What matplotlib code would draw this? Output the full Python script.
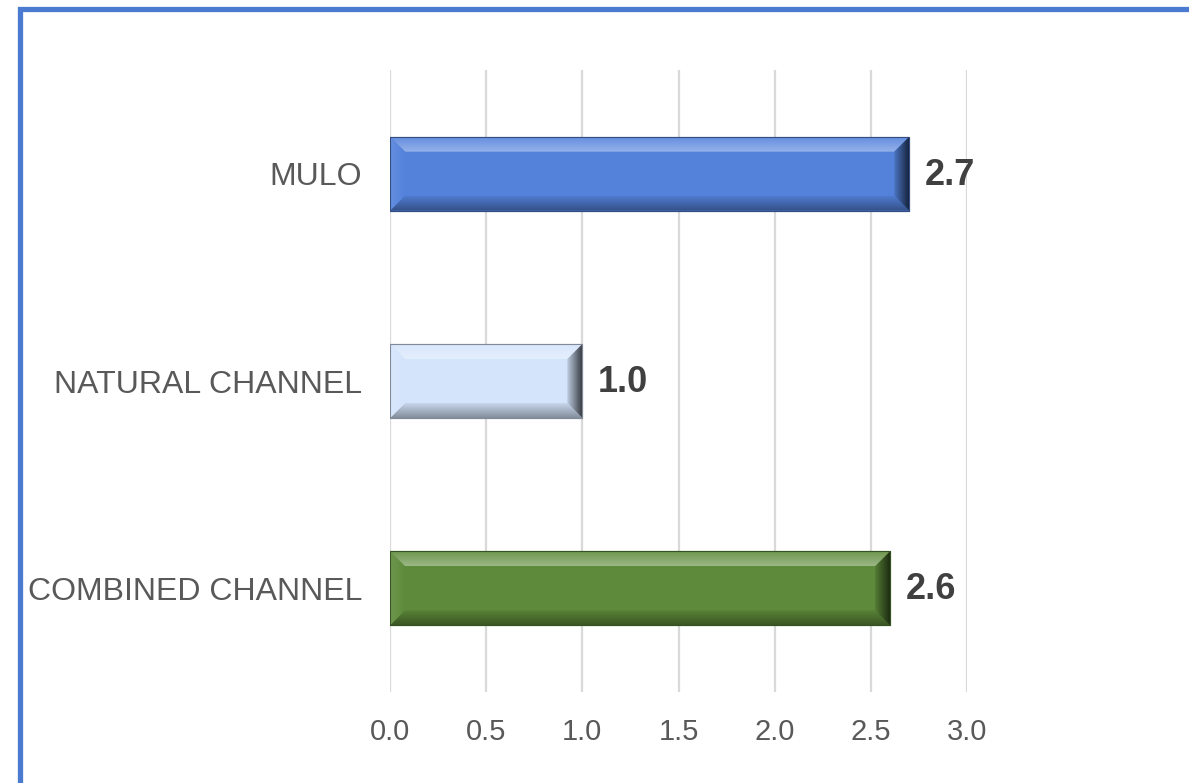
import numpy as np
import matplotlib
matplotlib.use("Agg")
import matplotlib.pyplot as plt
from matplotlib.patches import Polygon, Rectangle
from matplotlib.colors import to_rgb, LinearSegmentedColormap

categories = ["MULO", "NATURAL CHANNEL", "COMBINED CHANNEL"]
values = [2.7, 1.0, 2.6]
value_labels = ["2.7", "1.0", "2.6"]
face_colors = ["#5482DB", "#D4E4FB", "#5E8B3B"]
x_ticks = [0.0, 0.5, 1.0, 1.5, 2.0, 2.5, 3.0]
x_tick_labels = ["0.0", "0.5", "1.0", "1.5", "2.0", "2.5", "3.0"]

W, H, DPI = 1189, 783, 100
fig = plt.figure(figsize=(W / DPI, H / DPI), dpi=DPI)
fig.patch.set_facecolor("white")

ax = fig.add_axes([390 / W, 1 - 692 / H, (967 - 390) / W, (692 - 70) / H])
ax.set_xlim(0, 3.0)
ax.set_ylim(len(categories) - 0.5, -0.5)
for s in ax.spines.values():
    s.set_visible(False)
ax.set_xticks(x_ticks)
ax.set_xticklabels(x_tick_labels, fontsize=21, color="#595959",
                   family=["Liberation Sans", "DejaVu Sans"])
ax.set_yticks(range(len(categories)))
ax.set_yticklabels(categories, fontsize=23, color="#595959",
                   family=["Liberation Sans", "DejaVu Sans"])
ax.tick_params(axis="x", length=0, pad=19)
ax.tick_params(axis="y", length=0, pad=20)
ax.grid(axis="x", color="#D9D9D9", linewidth=1.6)
ax.set_axisbelow(True)


def mix(c, other, t):
    c = np.array(to_rgb(c))
    o = np.array(to_rgb(other))
    return tuple(c * (1 - t) + o * t)


def to_data(pts):
    return ax.transData.inverted().transform(np.asarray(pts))


def grad_poly(poly_px, c_outer, c_inner, direction):
    """Fill a pixel-space polygon with a linear gradient (outer edge -> inner edge)."""
    poly = to_data(poly_px)
    patch = Polygon(poly, closed=True, facecolor="none", edgecolor="none", zorder=3)
    ax.add_patch(patch)
    cmap = LinearSegmentedColormap.from_list("g", [c_outer, c_inner])
    n = 64
    ramp = np.linspace(0, 1, n)
    if direction == "top":
        img = ramp[:, None]
    elif direction == "bottom":
        img = ramp[::-1][:, None]
    elif direction == "left":
        img = ramp[None, :]
    else:
        img = ramp[::-1][None, :]
    xs, ys = poly[:, 0], poly[:, 1]
    # extent given so that image row 0 is drawn at the display top
    im = ax.imshow(img, cmap=cmap, aspect="auto", interpolation="bilinear",
                   extent=(xs.min(), xs.max(), ys.max(), ys.min()), zorder=3)
    im.set_clip_path(patch)


bar_h = 0.357
bev = 15  # bevel width in pixels
for i, (v, fc) in enumerate(zip(values, face_colors)):
    ax.barh(i, v, height=bar_h, color=fc, edgecolor=mix(fc, "black", 0.35),
            linewidth=0.8, zorder=2)
    (x0, yb), (x1, yt) = ax.transData.transform([(0, i + bar_h / 2), (v, i - bar_h / 2)])
    # display coords: yt is top (larger), yb bottom
    ox0, ox1, oyt, oyb = x0 + bev, x1 - bev, yt - bev, yb + bev
    light = mix(fc, "white", 0.38)
    grad_poly([(x0, yt), (x1, yt), (ox1, oyt), (ox0, oyt)],
              mix(fc, "white", 0.1), light, "top")
    grad_poly([(x0, yb), (x1, yb), (ox1, oyb), (ox0, oyb)],
              mix(fc, "black", 0.38), mix(fc, "black", 0.06), "bottom")
    grad_poly([(x0, yt), (ox0, oyt), (ox0, oyb), (x0, yb)],
              mix(fc, "white", 0.1), fc, "left")
    grad_poly([(x1, yt), (ox1, oyt), (ox1, oyb), (x1, yb)],
              mix(fc, "black", 0.72), mix(fc, "black", 0.1), "right")
    ax.add_patch(Rectangle((0, i - bar_h / 2), v, bar_h, facecolor="none",
                           edgecolor=mix(fc, "black", 0.4), linewidth=0.8, zorder=4))
    ax.annotate(value_labels[i], xy=(v, i), xytext=(11, -1), textcoords="offset points",
                va="center", ha="left", fontsize=26, fontweight="bold", color="#404040",
                family=["Liberation Sans", "DejaVu Sans"], zorder=5)

# Outer frame: visible along the top and left edges
fig.patches.append(Rectangle((19.5 / W, -0.2), 2.0, (1 - 8.5 / H) + 0.2,
                             transform=fig.transFigure, facecolor="none",
                             edgecolor="#4A7BD1", linewidth=3.8, zorder=10))

fig.savefig("out.png", dpi=DPI, facecolor="white")
